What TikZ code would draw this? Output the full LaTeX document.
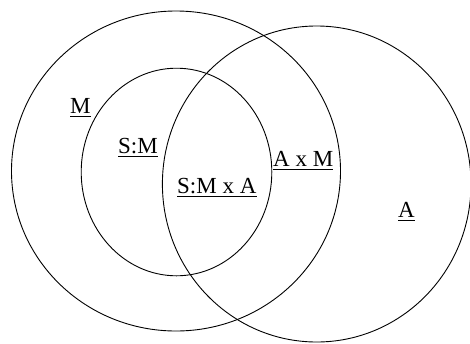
\documentclass[tikz,border=0pt]{standalone}
\usepackage{fontspec}
\setmainfont{Liberation Serif}
\begin{document}
\begin{tikzpicture}[x=1pt,y=-1pt,
  ring/.style={draw=black,line width=0.9pt},
  lbl/.style={inner sep=0pt,anchor=base west,font=\fontsize{23}{27}\selectfont},
  uline/.style={draw=black,line width=1.2pt}]
\useasboundingbox[fill=white] (0,0) rectangle (470,343);
\clip (0,0) rectangle (470,343);
\draw[ring] (176,171) ellipse [x radius=164.5pt, y radius=160pt];
\draw[ring] (176.5,172) ellipse [x radius=95.3pt, y radius=103.8pt];
\draw[ring] (316.7,184) ellipse [x radius=154.3pt, y radius=158pt];
\node[lbl] (m) at (70,113) {M};
\node[lbl] (sm) at (118,153) {S:M};
\node[lbl] (sma) at (177,193) {S:M x A};
\node[lbl] (axm) at (273,166) {A x M};
\node[lbl] (a) at (398,217) {A};
\foreach \n in {m,sm,sma,axm,a}
  \draw[uline] ([yshift=-3.5pt]\n.base west) -- ([yshift=-3.5pt]\n.base east);
\end{tikzpicture}
\end{document}
